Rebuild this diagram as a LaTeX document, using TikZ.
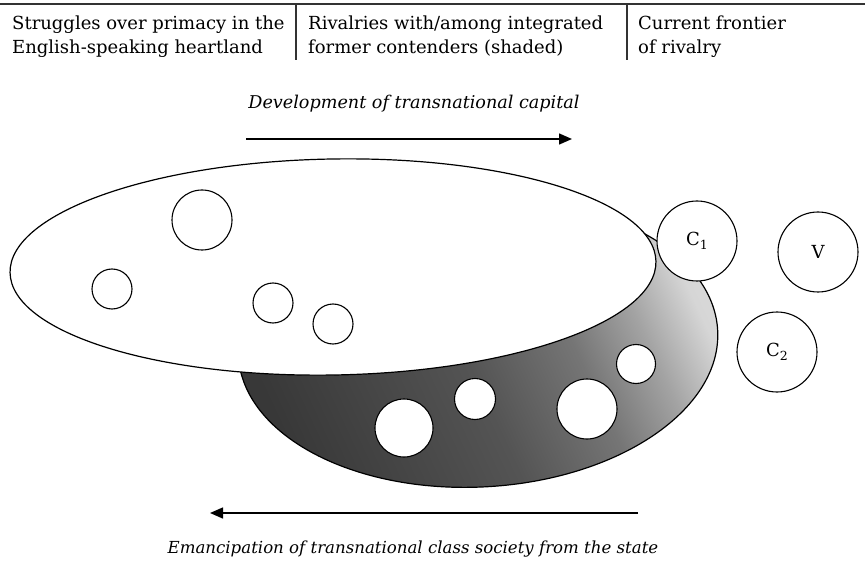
\documentclass[tikz,border=0pt]{standalone}
\usepackage{fontspec}
\setmainfont{DejaVu Serif}
\usetikzlibrary{arrows.meta}
\pgfdeclarehorizontalshading{blobshade}{100bp}{color(0bp)=(black!80); color(25bp)=(black!78); color(48bp)=(black!67); color(60bp)=(black!54); color(68bp)=(black!36); color(75bp)=(black!16); color(100bp)=(black!10)}
\begin{document}
\begin{tikzpicture}[x=1pt,y=1pt,
  hdr/.style={anchor=north west,align=left,font=\fontsize{18}{24}\selectfont,inner sep=0pt},
  capt/.style={inner sep=0pt},
  rulel/.style={line width=1.3pt,draw=black!80},
  flow/.style={line width=1.4pt,-{Triangle[length=13pt,width=11pt]}},
  blob/.style={circle,draw,line width=1.1pt,fill=white,inner sep=0pt},
  lbl/.style={blob,minimum size=80pt,font=\fontsize{18}{20}\selectfont}]
\useasboundingbox (0,-564) rectangle (865,0);
% header
\coordinate (tl) at (0,-4);
\coordinate (tr) at (865,-4);
\coordinate (d1t) at (296,-4);
\coordinate (d1b) at (296,-60);
\coordinate (d2t) at (627,-4);
\coordinate (d2b) at (627,-60);
\draw[rulel] (tl) -- (tr);
\draw[rulel] (d1t) -- (d1b);
\draw[rulel] (d2t) -- (d2b);
\node[hdr] (h1) at (12,-16) {Struggles over primacy in the\\English-speaking heartland};
\node[hdr] (h2) at (308,-16) {Rivalries with/among integrated\\former contenders (shaded)};
\node[hdr] (h3) at (638,-16) {Current frontier\\of rivalry};
% captions and arrows
\node[capt,font=\fontsize{17.6}{20}\selectfont\itshape] (top) at (414,-104) {Development of transnational capital};
\coordinate (a1s) at (246,-139);
\coordinate (a1e) at (572,-139);
\draw[flow] (a1s) -- (a1e);
\coordinate (a2s) at (638,-513);
\coordinate (a2e) at (210,-513);
\draw[flow] (a2s) -- (a2e);
\node[capt,font=\fontsize{16.6}{20}\selectfont\itshape] (bot) at (413,-549) {Emancipation of transnational class society from the state};
% shaded ellipse
\begin{scope}[rotate around={3:(478,-343)}]
\path[shading=blobshade, shading angle=25] (478,-343) ellipse [x radius=240, y radius=144];
\draw[line width=1.2pt] (478,-343) ellipse [x radius=240, y radius=144];
\end{scope}
% white ellipse
\draw[fill=white, line width=1.2pt, rotate around={1:(333,-267)}] (333,-267) ellipse [x radius=323, y radius=108];
% circles in white ellipse
\node[blob,minimum size=60pt] (w1) at (202,-220) {};
\node[blob,minimum size=40pt] (w2) at (112,-289) {};
\node[blob,minimum size=40pt] (w3) at (273,-303) {};
\node[blob,minimum size=40pt] (w4) at (333,-324) {};
% circles in shaded ellipse
\node[blob,minimum size=58pt] (s1) at (404,-428) {};
\node[blob,minimum size=41pt] (s2) at (475,-399) {};
\node[blob,minimum size=60pt] (s3) at (587,-409) {};
\node[blob,minimum size=39pt] (s4) at (636,-364) {};
% frontier circles
\node[lbl] (c1) at (697,-241) {C\raisebox{-0.45ex}{\fontsize{12.5}{12}\selectfont 1}};
\node[lbl] (v) at (818,-252) {V};
\node[lbl] (c2) at (777,-352) {C\raisebox{-0.45ex}{\fontsize{12.5}{12}\selectfont 2}};
\end{tikzpicture}
\end{document}
